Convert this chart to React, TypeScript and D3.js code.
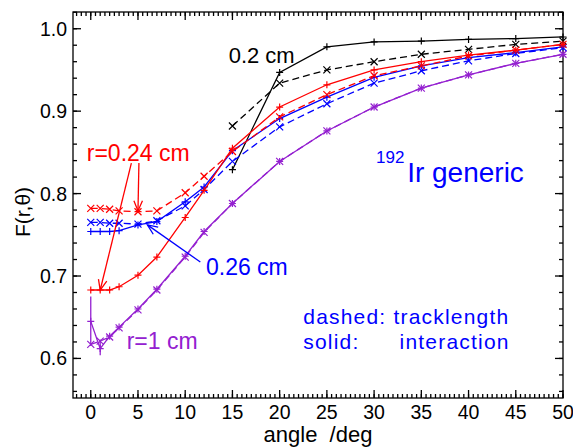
import React from 'react';
import * as d3 from 'd3';

// angles (deg) and F(r,theta) values
const angles = [0, 1, 2, 3, 5, 7, 10, 12, 15, 20, 25, 30, 35, 40, 45, 50];
const anglesNear = [15, 20, 25, 30, 35, 40, 45, 50];

const r02Solid = [0.829, 0.947, 0.978, 0.984, 0.985, 0.987, 0.988, 0.990];
const r02Dashed = [0.882, 0.934, 0.950, 0.960, 0.969, 0.975, 0.981, 0.985];
const r024Solid = [0.683, 0.683, 0.683, 0.687, 0.701, 0.723, 0.771, 0.804, 0.855, 0.905, 0.932, 0.950, 0.960, 0.968, 0.974, 0.981];
const r024Dashed = [0.782, 0.782, 0.781, 0.779, 0.778, 0.779, 0.801, 0.821, 0.851, 0.893, 0.920, 0.943, 0.955, 0.967, 0.974, 0.981];
const r026Solid = [0.754, 0.754, 0.754, 0.755, 0.762, 0.766, 0.790, 0.808, 0.852, 0.891, 0.917, 0.941, 0.955, 0.965, 0.971, 0.978];
const r026Dashed = [0.765, 0.765, 0.764, 0.764, 0.763, 0.767, 0.785, 0.805, 0.839, 0.881, 0.909, 0.934, 0.949, 0.961, 0.970, 0.977];
const r1Solid = [0.645, 0.612, 0.627, 0.638, 0.660, 0.684, 0.724, 0.754, 0.788, 0.839, 0.876, 0.905, 0.928, 0.944, 0.958, 0.969];
const r1Dashed = [0.617, 0.621, 0.626, 0.637, 0.659, 0.683, 0.723, 0.753, 0.788, 0.839, 0.876, 0.905, 0.928, 0.944, 0.958, 0.969];

// error bars on the r=1 cm interaction curve near 0 deg
const errAngles = [0, 1];
const errLow = [0.615, 0.604];
const errHigh = [0.675, 0.623];

const xTicks = [0, 5, 10, 15, 20, 25, 30, 35, 40, 45, 50];
const yTicks = [0.6, 0.7, 0.8, 0.9, 1.0];

const RED = '#ff0000';
const BLUE = '#0000ff';
const PURPLE = '#9420d0';
const BLACK = '#000000';
const FONT = "'Liberation Sans', Arial, Helvetica, sans-serif";

const W = 573;
const H = 447;
const left = 73, right = 563, top = 12, bottom = 398;

const x = d3.scaleLinear().domain([-1.88, 50]).range([left, right]);
const y = d3.scaleLinear().domain([0.552, 1.0203]).range([bottom, top]);

const line = d3.line<[number, number]>()
  .x((d) => x(d[0]))
  .y((d) => y(d[1]));

function zip(a: number[], b: number[]): [number, number][] {
  return a.map((v, i) => [v, b[i]]);
}

function Series({ xs, ys, color, dashed }: { xs: number[]; ys: number[]; color: string; dashed: boolean }) {
  const pts = zip(xs, ys);
  const s = 3.5;
  return (
    <g>
      <path d={line(pts) || ''} fill="none" stroke={color} strokeWidth={1.3}
        strokeDasharray={dashed ? '7,4' : undefined} />
      {pts.map((p, i) => {
        const cx = x(p[0]);
        const cy = y(p[1]);
        const d = dashed
          ? `M${cx - s},${cy - s}L${cx + s},${cy + s}M${cx - s},${cy + s}L${cx + s},${cy - s}`
          : `M${cx - s},${cy}L${cx + s},${cy}M${cx},${cy - s}L${cx},${cy + s}`;
        return <path key={i} d={d} stroke={color} strokeWidth={1.2} fill="none" />;
      })}
    </g>
  );
}

function Arrow({ from, to, color }: { from: [number, number]; to: [number, number]; color: string }) {
  const x1 = x(from[0]), y1 = y(from[1]);
  const x2 = x(to[0]), y2 = y(to[1]);
  const ang = Math.atan2(y1 - y2, x1 - x2);
  const len = 11;
  const spread = 0.4;
  const a1 = [x2 + len * Math.cos(ang + spread), y2 + len * Math.sin(ang + spread)];
  const a2 = [x2 + len * Math.cos(ang - spread), y2 + len * Math.sin(ang - spread)];
  return (
    <g stroke={color} strokeWidth={1.3} fill="none">
      <line x1={x1} y1={y1} x2={x2} y2={y2} />
      <path d={`M${a1[0]},${a1[1]}L${x2},${y2}L${a2[0]},${a2[1]}`} />
    </g>
  );
}

export default function App() {
  const xMinor = d3.range(-1.5, 50.01, 0.5);
  const yMinor = d3.range(0.56, 1.021, 0.02);

  return (
    <svg width={W} height={H} style={{ position: 'absolute', left: 0, top: 0, background: '#fff' }}
      fontFamily={FONT}>
      <rect x={0} y={0} width={W} height={H} fill="#fff" />

      {/* frame and ticks */}
      <g stroke="#000" strokeWidth={1.3}>
        <rect x={left} y={top} width={right - left} height={bottom - top} fill="none" />
        {xMinor.map((v) => (
          <g key={`xm${v}`}>
            <line x1={x(v)} x2={x(v)} y1={bottom} y2={bottom - 4} />
            <line x1={x(v)} x2={x(v)} y1={top} y2={top + 4} />
          </g>
        ))}
        {xTicks.map((v) => (
          <g key={`xM${v}`}>
            <line x1={x(v)} x2={x(v)} y1={bottom} y2={bottom - 8} />
            <line x1={x(v)} x2={x(v)} y1={top} y2={top + 8} />
          </g>
        ))}
        {yMinor.map((v) => (
          <g key={`ym${v}`}>
            <line x1={left} x2={left + 4} y1={y(v)} y2={y(v)} />
            <line x1={right} x2={right - 4} y1={y(v)} y2={y(v)} />
          </g>
        ))}
        {yTicks.map((v) => (
          <g key={`yM${v}`}>
            <line x1={left} x2={left + 8} y1={y(v)} y2={y(v)} />
            <line x1={right} x2={right - 8} y1={y(v)} y2={y(v)} />
          </g>
        ))}
      </g>

      {/* tick labels */}
      <g fontSize={19.5} fill="#000">
        {xTicks.map((v) => (
          <text key={`xl${v}`} x={x(v)} y={419} textAnchor="middle">{v}</text>
        ))}
        {yTicks.map((v) => (
          <text key={`yl${v}`} x={67} y={y(v) + 7} textAnchor="end">{v.toFixed(1)}</text>
        ))}
      </g>

      {/* axis titles */}
      <text x={(left + right) / 2} y={442} textAnchor="middle" fontSize={22}
        style={{ whiteSpace: 'pre' }}>angle  /deg</text>
      <text transform="translate(30,212) rotate(-90)" textAnchor="middle" fontSize={21}>F(r,θ)</text>

      {/* data */}
      <Series xs={anglesNear} ys={r02Dashed} color={BLACK} dashed />
      <Series xs={anglesNear} ys={r02Solid} color={BLACK} dashed={false} />
      <Series xs={angles} ys={r1Dashed} color={PURPLE} dashed />
      <Series xs={angles} ys={r1Solid} color={PURPLE} dashed={false} />
      <Series xs={angles} ys={r026Dashed} color={BLUE} dashed />
      <Series xs={angles} ys={r026Solid} color={BLUE} dashed={false} />
      <Series xs={angles} ys={r024Dashed} color={RED} dashed />
      <Series xs={angles} ys={r024Solid} color={RED} dashed={false} />

      <g stroke={PURPLE} strokeWidth={1.3}>
        {errAngles.map((a, i) => (
          <line key={`e${i}`} x1={x(a)} x2={x(a)} y1={y(errLow[i])} y2={y(errHigh[i])} />
        ))}
      </g>

      {/* annotations */}
      <text x={x(14.6)} y={y(0.958)} fontSize={22} fill={BLACK}>0.2 cm</text>

      <text x={x(-0.42)} y={y(0.840)} fontSize={23} fill={RED}>r=0.24 cm</text>
      <Arrow from={[4.3, 0.837]} to={[1, 0.683]} color={RED} />
      <Arrow from={[5.1, 0.837]} to={[5, 0.779]} color={RED} />

      <text x={x(12.2)} y={y(0.701)} fontSize={23} fill={BLUE}>0.26 cm</text>
      <Arrow from={[11.6, 0.717]} to={[6, 0.762]} color={BLUE} />

      <text x={x(3.8)} y={y(0.611)} fontSize={23} fill={PURPLE}>r=1 cm</text>

      <text x={x(30.2)} y={y(0.837)} fontSize={17} fill={BLUE}>192</text>
      <text x={x(33.5)} y={y(0.814)} fontSize={28} fill={BLUE}>Ir generic</text>

      <g fontSize={21} fill={BLUE} letterSpacing={1.2}>
        <text x={x(22.5)} y={y(0.6415)}>dashed: tracklength</text>
        <text x={x(22.5)} y={y(0.6115)}>solid:</text>
        <text x={x(32.7)} y={y(0.6115)}>interaction</text>
      </g>
    </svg>
  );
}
